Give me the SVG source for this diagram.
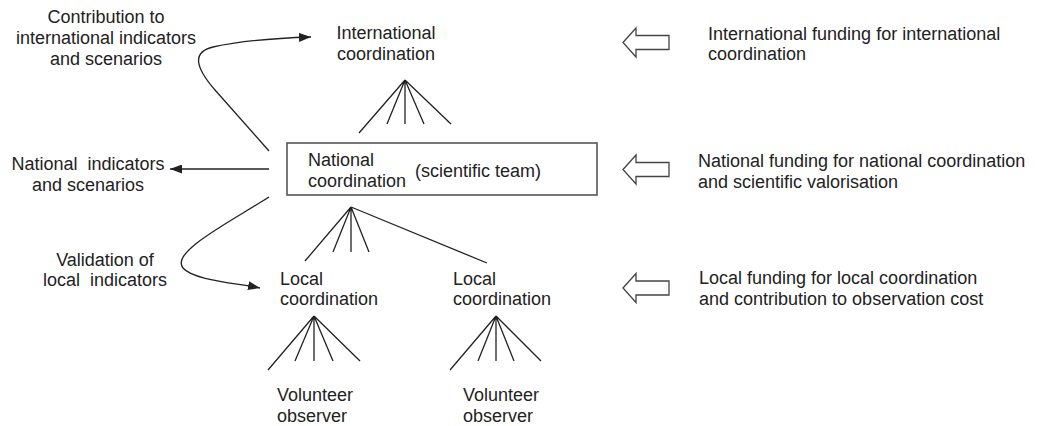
<svg xmlns="http://www.w3.org/2000/svg" width="1038" height="426" viewBox="0 0 1038 426">
<style>
text{font-family:"Liberation Sans",Arial,sans-serif;font-size:18px;fill:#222}
.c{text-anchor:middle}
.ln{stroke:#222;stroke-width:1.3;fill:none}
.fund{fill:#fff;stroke:#444;stroke-width:1.3}
.box{fill:#fff;stroke:#555;stroke-width:1.6}
</style>
<defs>
<marker id="ah" viewBox="0 0 12 9" refX="12" refY="4.5" markerWidth="12" markerHeight="9" markerUnits="userSpaceOnUse" orient="auto">
<path d="M0,0 L12,4.5 L0,9 Z" fill="#222"/>
</marker>
</defs>
<rect width="1038" height="426" fill="#fff"/>
<g id="connectors">
<path class="ln" d="M269,151 L215,90 C195,67 192,52 213,47 C240,41 280,38 311,37" marker-end="url(#ah)"/>
<path class="ln" d="M269,169 L170,169" marker-end="url(#ah)"/>
<path class="ln" d="M269,197 C230,222 170,252 183,268 C193,280 235,283 260,288" marker-end="url(#ah)"/>
<g id="fan-international">
<path class="ln" d="M405,80 L359,133 M405,80 L387,124 M405,80 L405,124 M405,80 L424,124 M405,80 L451,124"/>
</g>
<g id="fan-national">
<path class="ln" d="M351,207 L305,261 M351,207 L333,252 M351,207 L351,252 M351,207 L369,252 M351,207 L487,263"/>
</g>
<g id="fan-local1">
<path class="ln" d="M314,316 L268,370 M314,316 L295,361 M314,316 L314,361 M314,316 L333,361 M314,316 L360,361"/>
</g>
<g id="fan-local2">
<path class="ln" d="M496,316 L450,370 M496,316 L478,361 M496,316 L496,361 M496,316 L514,361 M496,316 L541,361"/>
</g>
</g>
<g id="international-coordination">
<text class="c" x="386" y="39">International</text>
<text class="c" x="386" y="60">coordination</text>
</g>
<g id="national-coordination">
<rect class="box" x="287" y="143" width="310" height="52"/>
<text x="308" y="166">National</text>
<text x="308" y="187">coordination</text>
<text x="415" y="177">(scientific team)</text>
</g>
<g id="local-coordination-1">
<text x="280" y="285">Local</text>
<text x="280" y="305">coordination</text>
</g>
<g id="local-coordination-2">
<text x="453" y="285">Local</text>
<text x="453" y="305">coordination</text>
</g>
<g id="volunteer-1">
<text x="277" y="401">Volunteer</text>
<text x="277" y="422">observer</text>
</g>
<g id="volunteer-2">
<text x="463" y="401">Volunteer</text>
<text x="463" y="422">observer</text>
</g>
<g id="label-contribution">
<text class="c" x="106" y="23">Contribution to</text>
<text class="c" x="106" y="44">international indicators</text>
<text class="c" x="106" y="65">and scenarios</text>
</g>
<g id="label-national-indicators">
<text class="c" x="88" y="170" xml:space="preserve">National  indicators</text>
<text class="c" x="88" y="191">and scenarios</text>
</g>
<g id="label-validation">
<text class="c" x="105" y="266">Validation of</text>
<text class="c" x="105" y="286" xml:space="preserve">local  indicators</text>
</g>
<g id="funding-international">
<polygon class="fund" points="623,42.5 636,28 636,35.5 669,35.5 669,49.5 636,49.5 636,57"/>
<text x="708" y="40">International funding for international</text>
<text x="708" y="60">coordination</text>
</g>
<g id="funding-national">
<polygon class="fund" points="623,169.5 636,155 636,162.5 669,162.5 669,176.5 636,176.5 636,184"/>
<text x="698" y="167">National funding for national coordination</text>
<text x="698" y="188">and scientific valorisation</text>
</g>
<g id="funding-local">
<polygon class="fund" points="623,288 636,273.5 636,281 669,281 669,295 636,295 636,302.5"/>
<text x="699" y="284">Local funding for local coordination</text>
<text x="699" y="305">and contribution to observation cost</text>
</g>
</svg>
